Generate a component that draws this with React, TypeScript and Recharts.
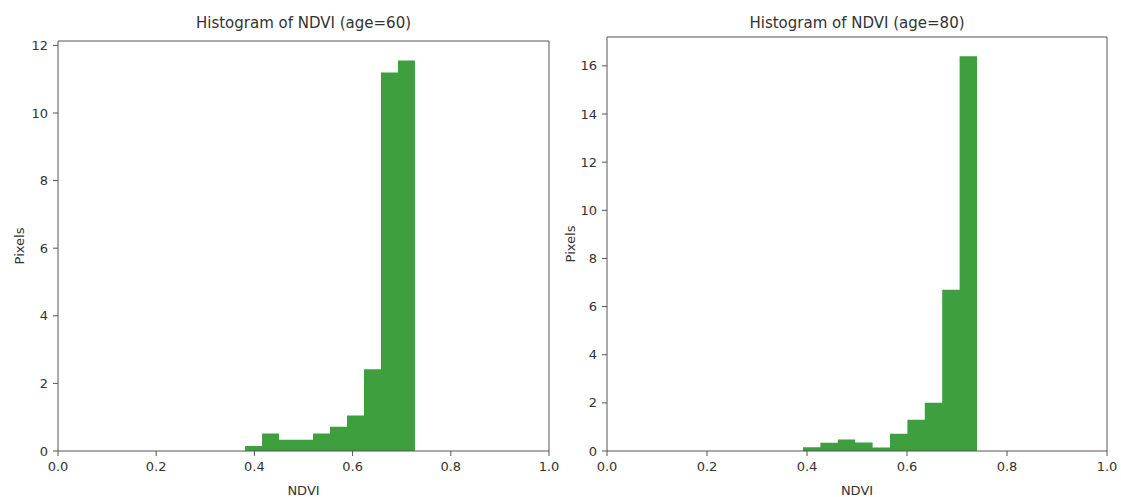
import React from "react";
import { ComposedChart, Area, XAxis, YAxis } from "recharts";

// Histogram of NDVI (age=60)
const binEdges60 = [0.381, 0.4156, 0.4502, 0.4848, 0.5194, 0.554, 0.5886, 0.6232, 0.6578, 0.6924, 0.727];
const counts60 = [0.15, 0.52, 0.33, 0.33, 0.52, 0.72, 1.05, 2.42, 11.2, 11.55];
const yTicks60 = [0, 2, 4, 6, 8, 10, 12];

// Histogram of NDVI (age=80)
const binEdges80 = [0.392, 0.4268, 0.4616, 0.4964, 0.5312, 0.566, 0.6008, 0.6356, 0.6704, 0.7052, 0.74];
const counts80 = [0.16, 0.34, 0.48, 0.35, 0.15, 0.72, 1.3, 2.0, 6.7, 16.4];
const yTicks80 = [0, 2, 4, 6, 8, 10, 12, 14, 16];

const xTicks = [0, 0.2, 0.4, 0.6, 0.8, 1.0];
const titles = ["Histogram of NDVI (age=60)", "Histogram of NDVI (age=80)"];
const xLabel = "NDVI";
const yLabel = "Pixels";

const FONT = "'DejaVu Sans', sans-serif";
const BAR = "#3d9f3d";
const AXIS = "#555";
const TXT = "#333";

function buildSteps(edges: number[], counts: number[]) {
  const rows = counts.map((c, i) => ({ x: edges[i], y: c }));
  rows.push({ x: edges[edges.length - 1], y: 0 });
  return rows;
}

type PanelProps = {
  left: number;
  width: number;
  margin: { top: number; right: number; bottom: number; left: number };
  edges: number[];
  counts: number[];
  yMax: number;
  yTicks: number[];
  title: string;
  labelOffset: number;
};

function Panel(p: PanelProps) {
  const data = buildSteps(p.edges, p.counts);
  const height = 497;
  const plotLeft = p.margin.left + 40;
  const plotWidth = p.width - plotLeft - p.margin.right - 1;
  return (
    <div style={{ position: "absolute", left: p.left, top: 0, width: p.width, height }}>
      <div
        style={{
          position: "absolute",
          left: plotLeft,
          width: plotWidth,
          top: 14,
          textAlign: "center",
          fontFamily: FONT,
          fontSize: 15,
          lineHeight: "18px",
          color: TXT,
          whiteSpace: "nowrap",
        }}
      >
        {p.title}
      </div>
      <ComposedChart width={p.width} height={height} data={data} margin={p.margin}>
        <XAxis
          dataKey="x"
          type="number"
          domain={[0, 1]}
          ticks={xTicks}
          allowDataOverflow
          tickFormatter={(v: number) => v.toFixed(1)}
          tick={{ fill: TXT, fontSize: 13, fontFamily: FONT }}
          tickSize={5}
          tickMargin={6}
          height={46}
          stroke={AXIS}
          label={{ value: xLabel, position: "insideBottom", offset: 2, fill: TXT, fontSize: 13, fontFamily: FONT }}
        />
        <XAxis
          xAxisId="top"
          dataKey="x"
          orientation="top"
          type="number"
          domain={[0, 1]}
          allowDataOverflow
          tick={false}
          tickLine={false}
          height={1}
          stroke={AXIS}
        />
        <YAxis
          type="number"
          domain={[0, p.yMax]}
          ticks={p.yTicks}
          allowDataOverflow
          tick={{ fill: TXT, fontSize: 13, fontFamily: FONT }}
          tickSize={5}
          tickMargin={5}
          width={40}
          stroke={AXIS}
          label={{
            value: yLabel,
            angle: -90,
            position: "insideLeft",
            offset: p.labelOffset,
            fill: TXT,
            fontSize: 13,
            fontFamily: FONT,
            style: { textAnchor: "middle" },
          }}
        />
        <YAxis
          yAxisId="right"
          orientation="right"
          type="number"
          domain={[0, p.yMax]}
          allowDataOverflow
          tick={false}
          tickLine={false}
          width={1}
          stroke={AXIS}
        />
        <Area
          dataKey="y"
          type="stepAfter"
          baseValue={0}
          fill={BAR}
          fillOpacity={1}
          stroke="none"
          isAnimationActive={false}
          dot={false}
          activeDot={false}
        />
        <Area
          xAxisId="top"
          yAxisId="right"
          dataKey="y"
          type="stepAfter"
          baseValue={0}
          fill="none"
          fillOpacity={0}
          stroke="none"
          isAnimationActive={false}
          dot={false}
          activeDot={false}
        />
      </ComposedChart>
    </div>
  );
}

export default function App() {
  return (
    <div style={{ position: "absolute", left: 0, top: 0, width: 1121, height: 497, background: "#fff" }}>
      <Panel
        left={0}
        width={560}
        margin={{ top: 40, right: 10, bottom: 0, left: 18 }}
        edges={binEdges60}
        counts={counts60}
        yMax={12.13}
        yTicks={yTicks60}
        title={titles[0]}
        labelOffset={1}
      />
      <Panel
        left={560}
        width={561}
        margin={{ top: 36, right: 13, bottom: 0, left: 7 }}
        edges={binEdges80}
        counts={counts80}
        yMax={17.2}
        yTicks={yTicks80}
        title={titles[1]}
        labelOffset={3}
      />
    </div>
  );
}
